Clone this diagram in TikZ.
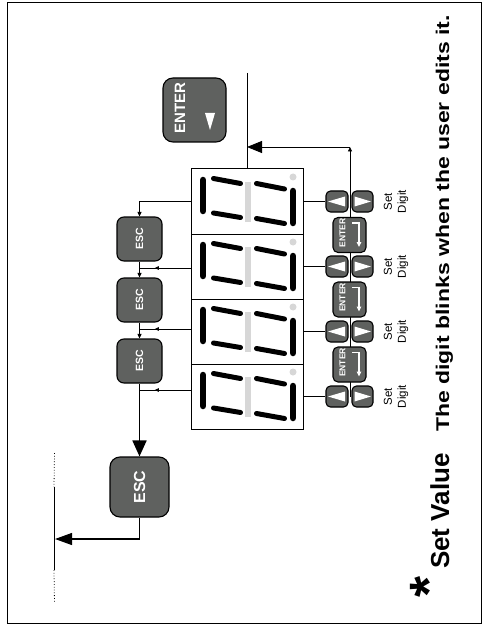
\documentclass[tikz,border=0pt]{standalone}
\usepackage{fontspec}
\setmainfont{Liberation Sans}
\usetikzlibrary{arrows.meta,decorations.markings}
\definecolor{btngrey}{RGB}{95,97,95}
\definecolor{seggrey}{RGB}{215,215,215}
\begin{document}
\begin{tikzpicture}[x=1pt,y=-1pt,
 key/.style={draw=black,line width=1.1pt,fill=btngrey,inner sep=0pt,text=white},
 smallkey/.style={key,rounded corners=4.5pt,minimum height=21pt},
 esckey/.style={key,rounded corners=7pt,minimum width=45pt,minimum height=44pt,font=\bfseries\fontsize{10.5}{10.5}\selectfont},
 disp/.style={draw=black,line width=1pt,fill=white,minimum width=112pt,minimum height=65pt,inner sep=0pt},
 wire/.style={line width=0.9pt},
 vseg/.style={line width=6.5pt,line cap=round},
 hseg/.style={line width=5pt,line cap=round},
 midarrow/.style={postaction={decorate},decoration={markings,mark=at position 0.7 with {\arrow{Triangle[length=4pt,width=3.5pt]}}}},
 sm/.style={-{Triangle[length=4.5pt,width=4pt]}},
 digitlbl/.style={inner sep=0pt,font=\fontsize{11.5}{14}\selectfont},
]
\useasboundingbox (0,0) rectangle (483,628);
\draw[line width=1pt] (7,3) rectangle (481,623);

% displays
\foreach \i/\yy in {1/201.5,2/266.5,3/331.5,4/396.5}{
  \node[disp] (d\i) at (247,\yy) {};
}
\foreach \yy in {169,234,299,364}{
 \begin{scope}[shift={(191,\yy)}]
  \draw[vseg] (12,11) -- (12,42);
  \draw[hseg] (22.5,9.5) -- (49.5,14.5);
  \draw[hseg] (22.5,44) -- (49.5,48.5);
  \draw[seggrey,line width=6pt] (56.5,13) -- (56.5,53);
  \draw[hseg] (65.5,14.5) -- (93.5,20);
  \draw[hseg] (65.5,49.5) -- (93.5,54.5);
  \draw[vseg] (102,22) -- (102,54);
  \fill[seggrey] (102,8) circle (3.5pt);
 \end{scope}
}

% big ENTER key
\node[key,rounded corners=10pt,minimum width=63pt,minimum height=64pt] (enter) at (194.5,110) {};
\node[text=white,inner sep=0pt,font=\bfseries\fontsize{15}{15}\selectfont] (entertxt) at (180,108) {\rotatebox{90}{ENTER}};
\fill[white] ([xshift=10.5pt,yshift=-3pt]enter.center) -- ([xshift=20.5pt,yshift=-3pt]enter.center) -- ([xshift=15.5pt,yshift=-20pt]enter.center) -- cycle;

% main line and return path
\coordinate (top) at (247,73);
\draw[wire] (top) -- (d1.north);
\coordinate (vb) at (350,396.5);
\coordinate (corner) at (350,147);
\coordinate (join) at (247,147);
\draw[wire,sm] (vb) -- (corner);
\draw[wire,-{Triangle[length=15pt,width=12pt]}] (corner) -- (join);

% arrow keys
\foreach \i/\yy in {1/201.5,2/266.5,3/331.5,4/396.5}{
  \node[smallkey,minimum width=22pt] (up\i) at (337,\yy) {};
  \node[smallkey,minimum width=21pt] (dn\i) at (362.5,\yy) {};
  \fill[white] ([xshift=-9pt]up\i.center) -- ([xshift=8pt,yshift=5pt]up\i.center) -- ([xshift=8pt,yshift=-5pt]up\i.center) -- cycle;
  \fill[white] ([xshift=8.5pt]dn\i.center) -- ([xshift=-8pt,yshift=5pt]dn\i.center) -- ([xshift=-8pt,yshift=-5pt]dn\i.center) -- cycle;
  \draw[wire] (d\i.east) -- (up\i.west);
  \node[digitlbl] (sd\i) at (396,\yy) {\rotatebox{90}{\begin{tabular}{@{}c@{}}Set\\Digit\end{tabular}}};
}

% small ENTER keys
\foreach \i/\yy in {1/235,2/299.5,3/364.5}{
  \node[key,rounded corners=5pt,minimum width=33pt,minimum height=35pt] (en\i) at (349.5,\yy) {};
  \node[text=white,inner sep=0pt,font=\bfseries\fontsize{8.5}{8.5}\selectfont] (ent\i) at ([xshift=-7pt,yshift=2pt]en\i.center) {\rotatebox{90}{ENTER}};
  \draw[white,line width=1.2pt,-{Triangle[length=5pt,width=4.5pt]}] ([xshift=2.5pt,yshift=12pt]en\i.center) -- ([xshift=9.5pt,yshift=12pt]en\i.center) -- ([xshift=9.5pt,yshift=-12pt]en\i.center);
}

% ESC keys
\node[esckey] (esc1) at (139.5,239) {\rotatebox{90}{ESC}};
\node[esckey] (esc2) at (139.5,300) {\rotatebox{90}{ESC}};
\node[esckey] (esc3) at (139.5,361) {\rotatebox{90}{ESC}};
\node[key,rounded corners=10pt,minimum width=59pt,minimum height=60pt,font=\bfseries\fontsize{16}{16}\selectfont] (bigesc) at (139.5,487) {\rotatebox{90}{ESC}};

\draw[wire,sm] (d1.west) -| (esc1.north);
\draw[wire,midarrow] ([yshift=-1.5pt]d2.west) -- ([yshift=-1.5pt]d2.west -| esc1.south);
\draw[wire,midarrow] ([yshift=2.5pt]d3.west) -- ([yshift=2.5pt]d3.west -| esc1.south);
\draw[wire,midarrow] ([yshift=6.5pt]d4.west) -- ([yshift=6.5pt]d4.west -| esc1.south);
\draw[wire,sm] (esc1.south) -- (esc2.north);
\draw[wire,sm] (esc2.south) -- (esc3.north);
\draw[line width=1.8pt,-{Triangle[length=16pt,width=14pt]}] (esc3.south) -- (bigesc.north);

\coordinate (back) at (55,539);
\draw[line width=1.2pt,-{Triangle[length=17pt,width=12pt]}] (bigesc.south) |- (back);
\coordinate (m0) at (54.5,453);
\coordinate (m1) at (54,487);
\coordinate (m2) at (54,570);
\coordinate (m3) at (54.5,603);
\draw[line width=1pt] (m1) -- (m2);
\draw[line width=0.8pt,dotted] (m0) -- (m1);
\draw[line width=0.8pt,dotted] (m2) -- (m3);

% caption
\node[rotate=90,anchor=base,inner sep=0pt,font=\bfseries\fontsize{54}{54}\selectfont] (star) at (447,587) {*};
\node[rotate=90,anchor=base west,inner sep=0pt,font=\bfseries\fontsize{26}{26}\selectfont] (setval) at (449,569) {Set Value};
\node[rotate=90,anchor=base west,inner sep=0pt] (note) at (449,432) {\scalebox{1}[0.8]{\bfseries\fontsize{23}{23}\selectfont The digit blinks when the user edits it.}};
\end{tikzpicture}
\end{document}
